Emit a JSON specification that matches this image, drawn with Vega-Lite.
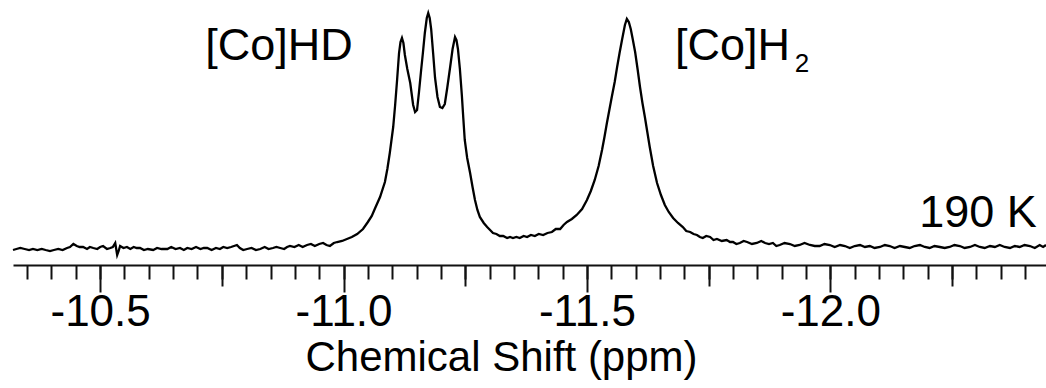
{
  "$schema": "https://vega.github.io/schema/vega-lite/v6.json",
  "width": 1033,
  "height": 265,
  "autosize": {"type": "none"},
  "padding": {"left": 13, "top": 0, "right": 0, "bottom": 123},
  "background": "white",
  "config": {"view": {"stroke": null}, "font": "Liberation Sans"},
  "resolve": {"axis": {"x": "independent"}},
  "datasets": {
    "spectrum": [
      {"ppm": -10.321, "intensity": 15}, {"ppm": -10.328, "intensity": 16}, {"ppm": -10.336, "intensity": 17}, {"ppm": -10.345, "intensity": 16},
      {"ppm": -10.354, "intensity": 15}, {"ppm": -10.362, "intensity": 16}, {"ppm": -10.371, "intensity": 15}, {"ppm": -10.38, "intensity": 16},
      {"ppm": -10.388, "intensity": 15}, {"ppm": -10.397, "intensity": 14}, {"ppm": -10.405, "intensity": 15}, {"ppm": -10.414, "intensity": 16},
      {"ppm": -10.423, "intensity": 15}, {"ppm": -10.432, "intensity": 17}, {"ppm": -10.438, "intensity": 18}, {"ppm": -10.445, "intensity": 21},
      {"ppm": -10.452, "intensity": 19}, {"ppm": -10.458, "intensity": 18}, {"ppm": -10.465, "intensity": 18}, {"ppm": -10.473, "intensity": 16},
      {"ppm": -10.479, "intensity": 18}, {"ppm": -10.486, "intensity": 17}, {"ppm": -10.494, "intensity": 16}, {"ppm": -10.5, "intensity": 18},
      {"ppm": -10.506, "intensity": 19}, {"ppm": -10.514, "intensity": 16}, {"ppm": -10.521, "intensity": 17}, {"ppm": -10.526, "intensity": 18},
      {"ppm": -10.531, "intensity": 22}, {"ppm": -10.535, "intensity": 10}, {"ppm": -10.538, "intensity": 14}, {"ppm": -10.541, "intensity": 19},
      {"ppm": -10.548, "intensity": 17}, {"ppm": -10.555, "intensity": 18}, {"ppm": -10.562, "intensity": 16}, {"ppm": -10.569, "intensity": 18},
      {"ppm": -10.575, "intensity": 17}, {"ppm": -10.582, "intensity": 17}, {"ppm": -10.59, "intensity": 15}, {"ppm": -10.598, "intensity": 16},
      {"ppm": -10.609, "intensity": 15}, {"ppm": -10.617, "intensity": 17}, {"ppm": -10.626, "intensity": 16}, {"ppm": -10.638, "intensity": 16},
      {"ppm": -10.646, "intensity": 18}, {"ppm": -10.655, "intensity": 16}, {"ppm": -10.664, "intensity": 17}, {"ppm": -10.672, "intensity": 15},
      {"ppm": -10.679, "intensity": 17}, {"ppm": -10.688, "intensity": 16}, {"ppm": -10.697, "intensity": 18}, {"ppm": -10.706, "intensity": 16},
      {"ppm": -10.713, "intensity": 17}, {"ppm": -10.72, "intensity": 17}, {"ppm": -10.729, "intensity": 15}, {"ppm": -10.738, "intensity": 17},
      {"ppm": -10.746, "intensity": 16}, {"ppm": -10.753, "intensity": 18}, {"ppm": -10.761, "intensity": 17}, {"ppm": -10.769, "intensity": 18},
      {"ppm": -10.775, "intensity": 19}, {"ppm": -10.781, "intensity": 20}, {"ppm": -10.787, "intensity": 17}, {"ppm": -10.794, "intensity": 15},
      {"ppm": -10.802, "intensity": 16}, {"ppm": -10.811, "intensity": 17}, {"ppm": -10.82, "intensity": 15}, {"ppm": -10.829, "intensity": 16},
      {"ppm": -10.838, "intensity": 18}, {"ppm": -10.846, "intensity": 16}, {"ppm": -10.855, "intensity": 17}, {"ppm": -10.862, "intensity": 18},
      {"ppm": -10.87, "intensity": 17}, {"ppm": -10.878, "intensity": 16}, {"ppm": -10.884, "intensity": 18}, {"ppm": -10.89, "intensity": 19},
      {"ppm": -10.899, "intensity": 18}, {"ppm": -10.908, "intensity": 20}, {"ppm": -10.916, "intensity": 18}, {"ppm": -10.925, "intensity": 20},
      {"ppm": -10.933, "intensity": 21}, {"ppm": -10.941, "intensity": 19}, {"ppm": -10.95, "intensity": 21}, {"ppm": -10.958, "intensity": 22},
      {"ppm": -10.965, "intensity": 20}, {"ppm": -10.972, "intensity": 19}, {"ppm": -10.98, "intensity": 22}, {"ppm": -10.987, "intensity": 23},
      {"ppm": -10.997, "intensity": 24}, {"ppm": -11.007, "intensity": 26}, {"ppm": -11.017, "intensity": 28}, {"ppm": -11.028, "intensity": 31},
      {"ppm": -11.04, "intensity": 36}, {"ppm": -11.05, "intensity": 43}, {"ppm": -11.058, "intensity": 49}, {"ppm": -11.065, "intensity": 57},
      {"ppm": -11.075, "intensity": 68}, {"ppm": -11.085, "intensity": 83}, {"ppm": -11.09, "intensity": 96}, {"ppm": -11.095, "intensity": 112},
      {"ppm": -11.102, "intensity": 138}, {"ppm": -11.106, "intensity": 160}, {"ppm": -11.11, "intensity": 185}, {"ppm": -11.114, "intensity": 212},
      {"ppm": -11.117, "intensity": 223}, {"ppm": -11.12, "intensity": 227}, {"ppm": -11.123, "intensity": 222}, {"ppm": -11.126, "intensity": 210},
      {"ppm": -11.131, "intensity": 196}, {"ppm": -11.137, "intensity": 182}, {"ppm": -11.143, "intensity": 160}, {"ppm": -11.147, "intensity": 153},
      {"ppm": -11.151, "intensity": 155}, {"ppm": -11.155, "intensity": 173}, {"ppm": -11.159, "intensity": 193}, {"ppm": -11.163, "intensity": 212},
      {"ppm": -11.167, "intensity": 232}, {"ppm": -11.171, "intensity": 247}, {"ppm": -11.174, "intensity": 252}, {"ppm": -11.177, "intensity": 247},
      {"ppm": -11.18, "intensity": 236}, {"ppm": -11.184, "intensity": 212}, {"ppm": -11.188, "intensity": 187}, {"ppm": -11.193, "intensity": 168},
      {"ppm": -11.198, "intensity": 158}, {"ppm": -11.203, "intensity": 157}, {"ppm": -11.208, "intensity": 161}, {"ppm": -11.213, "intensity": 177},
      {"ppm": -11.219, "intensity": 198}, {"ppm": -11.224, "intensity": 216}, {"ppm": -11.229, "intensity": 228}, {"ppm": -11.232, "intensity": 225},
      {"ppm": -11.235, "intensity": 216}, {"ppm": -11.239, "intensity": 196}, {"ppm": -11.243, "intensity": 170}, {"ppm": -11.246, "intensity": 147},
      {"ppm": -11.249, "intensity": 125}, {"ppm": -11.254, "intensity": 107}, {"ppm": -11.26, "intensity": 92}, {"ppm": -11.265, "intensity": 78},
      {"ppm": -11.27, "intensity": 65}, {"ppm": -11.275, "intensity": 55}, {"ppm": -11.28, "intensity": 48}, {"ppm": -11.288, "intensity": 42},
      {"ppm": -11.295, "intensity": 38}, {"ppm": -11.301, "intensity": 35}, {"ppm": -11.307, "intensity": 32}, {"ppm": -11.314, "intensity": 31},
      {"ppm": -11.321, "intensity": 29}, {"ppm": -11.328, "intensity": 29}, {"ppm": -11.336, "intensity": 27}, {"ppm": -11.342, "intensity": 28},
      {"ppm": -11.348, "intensity": 27}, {"ppm": -11.355, "intensity": 28}, {"ppm": -11.362, "intensity": 27}, {"ppm": -11.37, "intensity": 29},
      {"ppm": -11.377, "intensity": 28}, {"ppm": -11.385, "intensity": 30}, {"ppm": -11.393, "intensity": 29}, {"ppm": -11.401, "intensity": 31},
      {"ppm": -11.41, "intensity": 30}, {"ppm": -11.419, "intensity": 32}, {"ppm": -11.428, "intensity": 33}, {"ppm": -11.436, "intensity": 36},
      {"ppm": -11.445, "intensity": 36}, {"ppm": -11.452, "intensity": 40}, {"ppm": -11.459, "intensity": 43}, {"ppm": -11.469, "intensity": 46},
      {"ppm": -11.479, "intensity": 50}, {"ppm": -11.49, "intensity": 56}, {"ppm": -11.5, "intensity": 65}, {"ppm": -11.508, "intensity": 74},
      {"ppm": -11.516, "intensity": 85}, {"ppm": -11.524, "intensity": 99}, {"ppm": -11.531, "intensity": 115}, {"ppm": -11.536, "intensity": 128},
      {"ppm": -11.541, "intensity": 142}, {"ppm": -11.546, "intensity": 155}, {"ppm": -11.551, "intensity": 168}, {"ppm": -11.557, "intensity": 183},
      {"ppm": -11.562, "intensity": 198}, {"ppm": -11.567, "intensity": 212}, {"ppm": -11.572, "intensity": 225}, {"ppm": -11.578, "intensity": 240},
      {"ppm": -11.582, "intensity": 246}, {"ppm": -11.586, "intensity": 243}, {"ppm": -11.59, "intensity": 236}, {"ppm": -11.594, "intensity": 226},
      {"ppm": -11.599, "intensity": 213}, {"ppm": -11.604, "intensity": 196}, {"ppm": -11.609, "intensity": 178}, {"ppm": -11.614, "intensity": 162},
      {"ppm": -11.619, "intensity": 148}, {"ppm": -11.624, "intensity": 133}, {"ppm": -11.629, "intensity": 118}, {"ppm": -11.636, "intensity": 99},
      {"ppm": -11.644, "intensity": 82}, {"ppm": -11.652, "intensity": 70}, {"ppm": -11.66, "intensity": 60}, {"ppm": -11.668, "intensity": 53},
      {"ppm": -11.677, "intensity": 47}, {"ppm": -11.687, "intensity": 42}, {"ppm": -11.697, "intensity": 38}, {"ppm": -11.704, "intensity": 34},
      {"ppm": -11.712, "intensity": 33}, {"ppm": -11.719, "intensity": 31}, {"ppm": -11.726, "intensity": 30}, {"ppm": -11.732, "intensity": 28},
      {"ppm": -11.738, "intensity": 27}, {"ppm": -11.745, "intensity": 29}, {"ppm": -11.753, "intensity": 28}, {"ppm": -11.76, "intensity": 25},
      {"ppm": -11.767, "intensity": 26}, {"ppm": -11.777, "intensity": 24}, {"ppm": -11.787, "intensity": 25}, {"ppm": -11.794, "intensity": 23},
      {"ppm": -11.8, "intensity": 23}, {"ppm": -11.807, "intensity": 21}, {"ppm": -11.814, "intensity": 22}, {"ppm": -11.822, "intensity": 24},
      {"ppm": -11.829, "intensity": 23}, {"ppm": -11.839, "intensity": 21}, {"ppm": -11.849, "intensity": 22}, {"ppm": -11.858, "intensity": 24},
      {"ppm": -11.866, "intensity": 22}, {"ppm": -11.874, "intensity": 21}, {"ppm": -11.882, "intensity": 22}, {"ppm": -11.889, "intensity": 19},
      {"ppm": -11.896, "intensity": 20}, {"ppm": -11.906, "intensity": 22}, {"ppm": -11.917, "intensity": 21}, {"ppm": -11.927, "intensity": 19},
      {"ppm": -11.937, "intensity": 20}, {"ppm": -11.947, "intensity": 22}, {"ppm": -11.958, "intensity": 20}, {"ppm": -11.968, "intensity": 19},
      {"ppm": -11.978, "intensity": 19}, {"ppm": -11.988, "intensity": 21}, {"ppm": -11.999, "intensity": 20}, {"ppm": -12.009, "intensity": 18},
      {"ppm": -12.02, "intensity": 20}, {"ppm": -12.03, "intensity": 19}, {"ppm": -12.04, "intensity": 17}, {"ppm": -12.05, "intensity": 19},
      {"ppm": -12.061, "intensity": 20}, {"ppm": -12.071, "intensity": 18}, {"ppm": -12.081, "intensity": 19}, {"ppm": -12.091, "intensity": 17},
      {"ppm": -12.102, "intensity": 18}, {"ppm": -12.112, "intensity": 20}, {"ppm": -12.122, "intensity": 19}, {"ppm": -12.132, "intensity": 17},
      {"ppm": -12.143, "intensity": 19}, {"ppm": -12.153, "intensity": 18}, {"ppm": -12.163, "intensity": 17}, {"ppm": -12.173, "intensity": 19},
      {"ppm": -12.184, "intensity": 20}, {"ppm": -12.194, "intensity": 18}, {"ppm": -12.204, "intensity": 17}, {"ppm": -12.214, "intensity": 19},
      {"ppm": -12.225, "intensity": 18}, {"ppm": -12.235, "intensity": 17}, {"ppm": -12.245, "intensity": 18}, {"ppm": -12.255, "intensity": 20},
      {"ppm": -12.266, "intensity": 19}, {"ppm": -12.276, "intensity": 17}, {"ppm": -12.287, "intensity": 18}, {"ppm": -12.297, "intensity": 20},
      {"ppm": -12.307, "intensity": 18}, {"ppm": -12.317, "intensity": 17}, {"ppm": -12.328, "intensity": 19}, {"ppm": -12.338, "intensity": 18},
      {"ppm": -12.348, "intensity": 20}, {"ppm": -12.358, "intensity": 18}, {"ppm": -12.369, "intensity": 17}, {"ppm": -12.379, "intensity": 19},
      {"ppm": -12.389, "intensity": 18}, {"ppm": -12.399, "intensity": 20}, {"ppm": -12.41, "intensity": 19}, {"ppm": -12.42, "intensity": 17},
      {"ppm": -12.43, "intensity": 20}, {"ppm": -12.437, "intensity": 18}, {"ppm": -12.443, "intensity": 20}
    ],
    "labels": [
      {"text": "[Co]HD", "ppm": -10.716, "intensity": 205, "role": "main"},
      {"text": "[Co]H", "ppm": -11.681, "intensity": 205, "role": "main"},
      {"text": "2", "ppm": -11.927, "intensity": 193, "role": "sub"},
      {"text": "190 K", "ppm": -12.424, "intensity": 38, "role": "right"}
    ]
  },
  "layer": [
    {
      "data": {"name": "spectrum"},
      "mark": {"type": "line", "color": "black", "strokeWidth": 2.3, "interpolate": "linear"},
      "encoding": {
        "x": {
          "field": "ppm",
          "type": "quantitative",
          "scale": {"domain": [-10.321, -12.443], "nice": false, "zero": false},
          "axis": {
            "orient": "bottom",
            "values": [-10.35,-10.4,-10.45,-10.5,-10.55,-10.6,-10.65,-10.7,-10.75,-10.8,-10.85,-10.9,-10.95,-11,-11.05,-11.1,-11.15,-11.2,-11.25,-11.3,-11.35,-11.4,-11.45,-11.5,-11.55,-11.6,-11.65,-11.7,-11.75,-11.8,-11.85,-11.9,-11.95,-12,-12.05,-12.1,-12.15,-12.2,-12.25,-12.3,-12.35,-12.4],
            "title": null,
            "labels": false,
            "grid": false,
            "domain": true,
            "domainColor": "#111",
            "domainWidth": 2,
            "ticks": true,
            "tickColor": "#111",
            "tickWidth": 2,
            "tickSize": 14
          }
        },
        "y": {
          "field": "intensity",
          "type": "quantitative",
          "scale": {"domain": [0, 265], "nice": false, "zero": false},
          "axis": null
        }
      }
    },
    {
      "data": {"name": "labels"},
      "transform": [{"filter": "datum.role == 'main'"}],
      "mark": {"type": "text", "font": "Liberation Sans", "fontSize": 45, "align": "left", "baseline": "alphabetic", "color": "black"},
      "encoding": {
        "x": {
          "field": "ppm",
          "type": "quantitative",
          "scale": {"domain": [-10.321, -12.443], "nice": false, "zero": false},
          "axis": {
            "orient": "bottom",
            "values": [-10.75, -11.25, -11.75, -12.25],
            "title": null,
            "labels": false,
            "grid": false,
            "domain": false,
            "ticks": true,
            "tickColor": "#111",
            "tickWidth": 2,
            "tickSize": 21
          }
        },
        "y": {"field": "intensity", "type": "quantitative", "scale": {"domain": [0, 265], "nice": false, "zero": false}, "axis": null},
        "text": {"field": "text"}
      }
    },
    {
      "data": {"name": "labels"},
      "transform": [{"filter": "datum.role == 'sub'"}],
      "mark": {"type": "text", "font": "Liberation Sans", "fontSize": 26, "align": "left", "baseline": "alphabetic", "color": "black"},
      "encoding": {
        "x": {"field": "ppm", "type": "quantitative", "scale": {"domain": [-10.321, -12.443], "nice": false, "zero": false}, "axis": null},
        "y": {"field": "intensity", "type": "quantitative", "scale": {"domain": [0, 265], "nice": false, "zero": false}, "axis": null},
        "text": {"field": "text"}
      }
    },
    {
      "data": {"name": "labels"},
      "transform": [{"filter": "datum.role == 'right'"}],
      "mark": {"type": "text", "font": "Liberation Sans", "fontSize": 45, "align": "right", "baseline": "alphabetic", "color": "black"},
      "encoding": {
        "x": {
          "field": "ppm",
          "type": "quantitative",
          "scale": {"domain": [-10.321, -12.443], "nice": false, "zero": false},
          "axis": {
            "orient": "bottom",
            "values": [-10.5, -11, -11.5, -12],
            "title": "Chemical Shift (ppm)",
            "titleFont": "Liberation Sans",
            "titleFontSize": 42,
            "titleFontWeight": "normal",
            "titleColor": "black",
            "titleX": 488,
            "titleY": 105,
            "titleBaseline": "alphabetic",
            "titleAlign": "center",
            "grid": false,
            "domain": false,
            "ticks": true,
            "tickColor": "#111",
            "tickWidth": 2,
            "tickSize": 27,
            "labelExpr": "'-' + format(abs(datum.value), '.1f')",
            "labelFont": "Liberation Sans",
            "labelFontSize": 44,
            "labelColor": "black",
            "labelBaseline": "alphabetic",
            "labelPadding": 33,
            "labelOverlap": false,
            "labelFlush": false,
            "labelBound": false
          }
        },
        "y": {"field": "intensity", "type": "quantitative", "scale": {"domain": [0, 265], "nice": false, "zero": false}, "axis": null},
        "text": {"field": "text"}
      }
    }
  ]
}
